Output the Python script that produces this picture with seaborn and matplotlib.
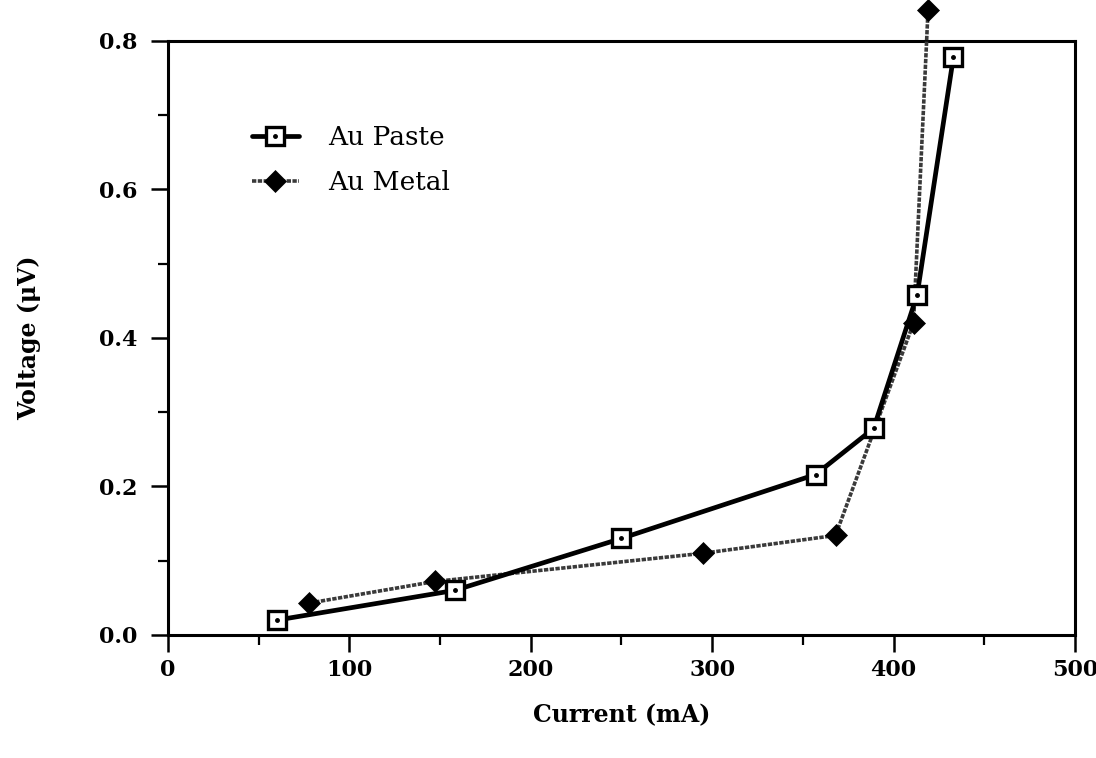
import numpy as np
import pandas as pd
import matplotlib
matplotlib.use("Agg")
import matplotlib.pyplot as plt
import seaborn as sns
from matplotlib.lines import Line2D
from matplotlib.legend_handler import HandlerTuple
from matplotlib.ticker import MultipleLocator

# ---- data ----
paste_current = [60, 158, 250, 357, 389, 413, 433]
paste_voltage = [0.020, 0.060, 0.130, 0.216, 0.278, 0.458, 0.778]
metal_current = [78, 147, 295, 368, 411, 419]
metal_voltage = [0.043, 0.072, 0.110, 0.134, 0.420, 0.841]
series_names = ["Au Paste", "Au Metal"]
x_ticks = [0, 100, 200, 300, 400, 500]
y_ticks = [0.0, 0.2, 0.4, 0.6, 0.8]

df = pd.concat([
    pd.DataFrame({"Current": paste_current, "Voltage": paste_voltage, "Series": series_names[0]}),
    pd.DataFrame({"Current": metal_current, "Voltage": metal_voltage, "Series": series_names[1]}),
], ignore_index=True)

sns.set_style("ticks")
plt.rcParams["font.family"] = ["DejaVu Serif"]
plt.rcParams["text.color"] = "black"
plt.rcParams["axes.labelcolor"] = "black"
plt.rcParams["xtick.color"] = "black"
plt.rcParams["ytick.color"] = "black"

fig = plt.figure(figsize=(10.96, 7.58), dpi=100)
ax = fig.add_axes([0.1533, 0.1623, 0.8275, 0.7840])

paste = df[df.Series == series_names[0]]
metal = df[df.Series == series_names[1]]

metal_style = dict(color="#3a3a3a", linewidth=2.6, linestyle=(0, (1.2, 0.4)), marker="D",
                   markersize=11, markerfacecolor="black", markeredgecolor="black",
                   markeredgewidth=0.5)
paste_style = dict(color="black", linewidth=3.4, marker="s", markersize=13,
                   markerfacecolor="white", markeredgecolor="black", markeredgewidth=2.4)

sns.lineplot(data=metal, x="Current", y="Voltage", ax=ax, clip_on=False, zorder=3,
             label="_m", **metal_style)
sns.lineplot(data=paste, x="Current", y="Voltage", ax=ax, clip_on=False, zorder=4,
             label="_p", **paste_style)
ax.plot(paste_current, paste_voltage, linestyle="none", marker="o", markersize=2.5,
        color="black", zorder=5, clip_on=False)
if ax.get_legend() is not None:
    ax.get_legend().remove()

ax.set_xlim(0, 500)
ax.set_ylim(0, 0.8)
ax.set_xticks(x_ticks)
ax.set_yticks(y_ticks)
ax.set_yticklabels([f"{v:.1f}" for v in y_ticks])
ax.xaxis.set_minor_locator(MultipleLocator(50))
ax.yaxis.set_minor_locator(MultipleLocator(0.1))
ax.tick_params(which="major", direction="out", length=12, width=1.8, pad=5,
               labelsize=16, top=False, right=False, colors="black")
ax.tick_params(which="minor", direction="out", length=7, width=1.6, top=False, right=False,
               colors="black")
ax.tick_params(axis="y", which="major", pad=10)
for lab in ax.get_xticklabels() + ax.get_yticklabels():
    lab.set_fontweight("bold")
for sp in ax.spines.values():
    sp.set_visible(True)
    sp.set_linewidth(2.2)
    sp.set_color("black")

ax.set_xlabel("Current (mA)", fontsize=17, fontweight="bold", labelpad=16, color="black")
ax.set_ylabel("Voltage (\u03bcV)", fontsize=17, fontweight="bold", labelpad=42, color="black")

# legend
h_paste_line = Line2D([], [], **paste_style)
h_paste_dot = Line2D([], [], linestyle="none", marker="o", markersize=2.5, color="black")
h_metal = Line2D([], [], **metal_style)
leg = ax.legend([(h_paste_line, h_paste_dot), h_metal], series_names,
                handler_map={tuple: HandlerTuple(ndivide=1)},
                loc="upper left", bbox_to_anchor=(0.066, 0.898), frameon=False,
                fontsize=19, handlelength=1.8, handletextpad=1.1, labelspacing=0.75)
for t in leg.get_texts():
    t.set_color("black")

fig.savefig("out.png", dpi=100)
